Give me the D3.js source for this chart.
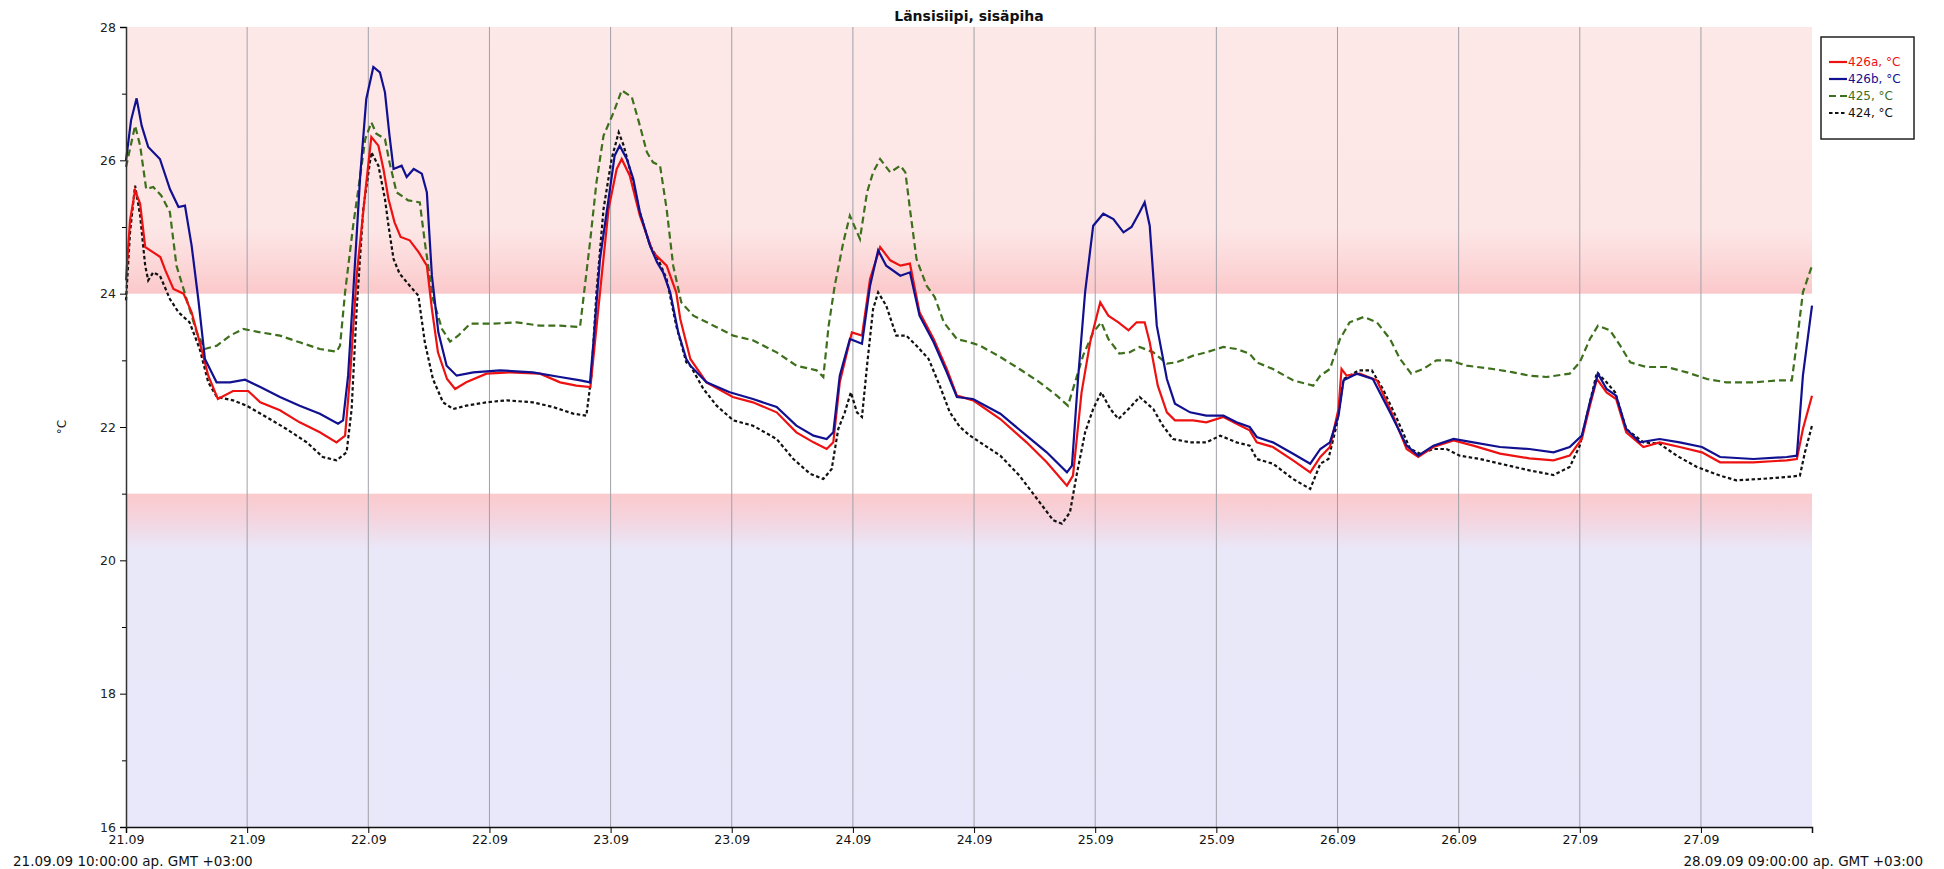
<!DOCTYPE html>
<html lang="fi">
    <head>
        <meta charset="utf-8">
        <title>Länsisiipi, sisäpiha</title>
        <script src="https://cdn.jsdelivr.net/npm/d3@7/dist/d3.min.js" charset="utf-8"></script>
        <style>
            body { margin: 0; background: #fff; }
            text { font-family: "DejaVu Sans", Verdana, sans-serif; }
        </style>
    </head>
    <body>
        <div id="chart"></div>
        <script>
            // hours after 21.09.09 10:00, temperature °C
            var s426a = [[0,24.2],[0.4,25.1],[0.9,25.55],[1.4,25.35],[1.9,24.7],[2.4,24.65],[3.4,24.55],[3.9,24.35],[4.7,24.07],[5.7,24.0],[6.5,23.72],[7.3,23.27],[8.15,22.77],[9.1,22.42],[10.6,22.54],[12.1,22.54],[13.3,22.37],[15.25,22.25],[17.2,22.07],[19.2,21.92],[20.85,21.77],[21.7,21.87],[22.2,22.77],[22.85,24.27],[23.7,25.52],[24.3,26.35],[25.0,26.22],[25.5,25.87],[26.0,25.42],[26.6,25.07],[27.2,24.85],[28.1,24.8],[29.0,24.62],[29.8,24.42],[30.3,23.77],[30.9,23.12],[31.8,22.72],[32.6,22.57],[33.7,22.67],[35.7,22.8],[38.0,22.82],[41.0,22.8],[43.0,22.67],[44.6,22.62],[46.0,22.6],[46.45,23.27],[46.95,24.02],[47.8,25.27],[48.6,25.87],[49.1,26.02],[49.9,25.77],[50.9,25.17],[52.2,24.62],[53.55,24.42],[54.5,24.02],[54.9,23.62],[55.9,23.02],[57.5,22.67],[60.1,22.45],[62.1,22.37],[64.45,22.22],[66.4,21.92],[68.1,21.77],[69.4,21.67],[70.06,21.77],[70.7,22.67],[71.9,23.42],[72.9,23.37],[73.7,24.22],[74.7,24.7],[75.7,24.5],[76.7,24.42],[77.65,24.45],[78.6,23.72],[80.0,23.32],[81.3,22.87],[82.3,22.47],[83.9,22.4],[86.6,22.12],[89.2,21.77],[91.2,21.47],[93.2,21.12],[93.8,21.27],[94.65,22.52],[95.5,23.27],[96.5,23.87],[97.3,23.67],[98.3,23.57],[99.3,23.45],[100.1,23.57],[100.9,23.57],[101.4,23.27],[102.2,22.62],[103.1,22.22],[103.9,22.1],[105.7,22.1],[107.0,22.07],[108.7,22.15],[110.0,22.05],[111.3,21.95],[112.0,21.77],[113.6,21.7],[115.6,21.5],[117.3,21.32],[118.3,21.55],[119.25,21.7],[120.1,22.27],[120.4,22.87],[120.9,22.77],[122.2,22.8],[123.9,22.7],[125.5,22.17],[126.85,21.67],[128.0,21.55],[129.5,21.7],[131.5,21.8],[133.45,21.72],[136.1,21.6],[139.0,21.53],[141.4,21.5],[143.0,21.57],[144.2,21.82],[145.0,22.32],[145.7,22.72],[146.65,22.52],[147.6,22.42],[148.6,21.92],[150.3,21.7],[151.9,21.77],[153.9,21.7],[156.1,21.62],[157.9,21.47],[161.2,21.47],[164.5,21.5],[165.5,21.52],[166.1,21.97],[167,22.47]];
            var s426b = [[0,26.0],[0.5,26.6],[1.05,26.93],[1.55,26.52],[2.2,26.2],[3.36,26.02],[4.35,25.57],[5.2,25.3],[5.84,25.32],[6.5,24.72],[7.16,23.92],[7.82,23.02],[8.97,22.67],[10.3,22.67],[11.8,22.71],[13.3,22.6],[15.25,22.45],[17.2,22.32],[19.2,22.2],[21.0,22.05],[21.5,22.1],[22.0,22.77],[22.5,24.0],[23.2,25.77],[23.8,26.92],[24.5,27.4],[25.15,27.32],[25.65,27.02],[26.1,26.37],[26.5,25.87],[27.3,25.92],[27.8,25.75],[28.5,25.87],[29.3,25.8],[29.8,25.52],[30.3,24.27],[30.94,23.42],[31.76,22.92],[32.75,22.77],[34.4,22.82],[37.05,22.85],[40.3,22.82],[43.0,22.75],[45.0,22.7],[45.96,22.67],[46.3,23.27],[46.95,24.52],[47.8,25.42],[48.4,26.07],[48.9,26.22],[49.6,26.02],[50.25,25.72],[50.9,25.22],[51.9,24.72],[52.6,24.47],[53.2,24.32],[53.9,24.02],[54.7,23.42],[55.5,23.02],[55.9,22.92],[57.5,22.67],[59.8,22.52],[62.1,22.42],[64.45,22.3],[66.4,22.02],[68.1,21.87],[69.4,21.82],[70.06,21.92],[70.7,22.77],[71.7,23.32],[72.9,23.25],[73.7,24.12],[74.5,24.65],[75.3,24.42],[76.7,24.27],[77.65,24.32],[78.6,23.67],[80.0,23.27],[81.3,22.82],[82.3,22.45],[83.9,22.42],[86.6,22.2],[89.2,21.87],[91.2,21.62],[93.2,21.32],[93.7,21.42],[94.3,22.72],[95.0,24.02],[95.8,25.02],[96.8,25.2],[97.8,25.12],[98.8,24.92],[99.6,25.0],[100.4,25.22],[100.9,25.37],[101.4,25.02],[102.1,23.52],[103.1,22.72],[103.9,22.35],[105.4,22.22],[107.0,22.17],[108.7,22.17],[110.0,22.07],[111.3,22.0],[112.0,21.85],[113.6,21.77],[115.6,21.6],[117.3,21.45],[118.3,21.67],[119.25,21.77],[120.1,22.17],[120.6,22.7],[121.9,22.8],[123.5,22.72],[125.2,22.22],[126.85,21.72],[128.0,21.57],[129.5,21.72],[131.5,21.82],[133.45,21.77],[136.1,21.7],[139.0,21.67],[141.4,21.62],[143.0,21.7],[144.2,21.87],[145.0,22.37],[145.8,22.8],[146.65,22.57],[147.6,22.47],[148.6,21.97],[149.95,21.77],[151.9,21.82],[153.9,21.77],[156.1,21.7],[157.9,21.55],[161.2,21.52],[164.5,21.55],[165.5,21.57],[166.1,22.77],[167,23.82]];
            var s425 = [[0,25.9],[0.9,26.52],[1.4,26.22],[2.0,25.57],[2.7,25.6],[3.5,25.47],[4.35,25.22],[5.0,24.42],[6.0,23.92],[7.0,23.42],[7.8,23.17],[9.0,23.22],[10.3,23.37],[11.6,23.47],[13.3,23.42],[15.25,23.37],[17.2,23.27],[19.2,23.17],[20.85,23.13],[21.2,23.22],[21.7,24.02],[22.5,25.02],[23.2,25.77],[23.7,26.32],[24.3,26.57],[24.8,26.4],[25.65,26.32],[26.1,25.97],[26.8,25.52],[27.95,25.4],[29.1,25.37],[29.6,24.77],[30.4,23.92],[31.3,23.47],[32.1,23.28],[32.9,23.37],[34.1,23.55],[36.4,23.55],[38.7,23.57],[41.0,23.52],[43.0,23.52],[44.97,23.5],[45.3,23.92],[45.96,24.77],[46.6,25.67],[47.3,26.37],[48.3,26.72],[49.1,27.05],[50.1,26.95],[50.9,26.52],[51.6,26.12],[52.2,25.97],[52.9,25.92],[53.55,25.27],[54.2,24.42],[55.0,23.87],[56.2,23.67],[58.2,23.52],[60.15,23.37],[62.1,23.3],[64.45,23.12],[66.4,22.92],[68.4,22.85],[69.07,22.75],[69.6,23.52],[70.2,24.12],[71.05,24.77],[71.7,25.17],[72.7,24.82],[73.4,25.52],[74.0,25.82],[74.7,26.02],[75.7,25.82],[76.7,25.92],[77.2,25.82],[77.65,25.27],[78.3,24.52],[79.3,24.12],[80.1,23.95],[81.0,23.57],[82.3,23.32],[83.6,23.27],[84.6,23.22],[86.6,23.05],[88.5,22.87],[90.5,22.67],[92.2,22.47],[93.3,22.32],[94.0,22.67],[94.8,23.07],[95.8,23.42],[96.6,23.57],[97.3,23.32],[98.4,23.1],[99.4,23.12],[100.4,23.2],[101.75,23.12],[103.1,22.95],[104.05,22.97],[105.7,23.07],[107.0,23.12],[108.7,23.2],[110.0,23.17],[111.3,23.1],[112.0,22.97],[113.6,22.87],[115.6,22.7],[117.6,22.62],[118.3,22.77],[119.25,22.87],[120.25,23.32],[121.2,23.57],[122.6,23.65],[123.9,23.57],[125.2,23.32],[126.2,23.02],[127.3,22.8],[128.5,22.87],[129.8,23.0],[131.1,23.0],[132.8,22.92],[135.4,22.87],[137.4,22.82],[139.0,22.77],[140.7,22.75],[143.0,22.8],[144.0,22.97],[145.0,23.32],[145.8,23.52],[147.0,23.45],[148.0,23.22],[149.0,22.97],[150.6,22.9],[152.6,22.9],[154.6,22.82],[156.6,22.72],[158.5,22.67],[161.2,22.67],[163.8,22.7],[165.0,22.7],[165.5,23.27],[166.1,24.02],[167,24.42]];
            var s424 = [[0,23.9],[0.4,24.92],[0.9,25.62],[1.4,25.17],[1.9,24.42],[2.2,24.2],[2.7,24.32],[3.36,24.27],[4.35,23.92],[5.2,23.72],[6.3,23.57],[7.3,23.17],[8.15,22.67],[9.0,22.45],[10.6,22.4],[11.95,22.32],[13.9,22.15],[15.9,21.97],[17.9,21.77],[19.5,21.55],[20.85,21.5],[21.85,21.62],[22.35,22.27],[22.85,23.77],[23.5,25.27],[24.3,26.12],[25.0,25.92],[25.65,25.42],[26.0,25.02],[26.5,24.52],[27.1,24.3],[28.1,24.12],[28.96,23.97],[29.6,23.27],[30.4,22.72],[31.4,22.37],[32.4,22.27],[33.7,22.32],[35.7,22.37],[37.7,22.4],[40.3,22.37],[42.3,22.3],[44.3,22.2],[45.6,22.17],[46.1,22.77],[46.6,24.02],[47.3,25.27],[48.1,26.02],[48.8,26.42],[49.3,26.22],[49.9,25.87],[50.9,25.22],[51.9,24.72],[52.7,24.52],[53.55,24.22],[54.5,23.52],[55.5,22.97],[55.9,22.92],[57.2,22.57],[58.5,22.32],[60.15,22.1],[62.1,22.02],[64.45,21.82],[66.1,21.52],[67.75,21.3],[69.07,21.22],[69.9,21.37],[70.55,21.97],[71.2,22.22],[71.8,22.52],[72.4,22.22],[72.9,22.15],[73.4,22.92],[74.0,23.77],[74.5,24.02],[75.3,23.82],[76.3,23.37],[77.3,23.37],[78.3,23.22],[79.5,23.02],[80.6,22.62],[81.6,22.22],[82.6,22.0],[83.6,21.87],[84.6,21.77],[86.6,21.57],[88.5,21.27],[90.5,20.87],[91.85,20.6],[92.7,20.55],[93.5,20.72],[94.15,21.27],[95.0,21.92],[95.8,22.27],[96.6,22.52],[97.5,22.27],[98.3,22.12],[99.3,22.27],[100.4,22.45],[101.75,22.27],[102.7,22.02],[103.7,21.82],[105.4,21.77],[107.0,21.77],[108.4,21.87],[110.0,21.77],[111.3,21.72],[112.0,21.52],[113.6,21.45],[115.6,21.22],[117.3,21.07],[118.3,21.45],[119.1,21.52],[119.9,22.02],[120.6,22.72],[122.1,22.85],[123.4,22.85],[124.5,22.57],[125.9,22.12],[127.2,21.67],[128.2,21.6],[129.5,21.67],[130.8,21.67],[132.1,21.57],[134.1,21.52],[136.1,21.45],[139.0,21.35],[140.05,21.32],[141.4,21.28],[143.0,21.4],[144.0,21.72],[145.0,22.37],[145.7,22.82],[146.65,22.67],[147.5,22.52],[148.6,21.97],[150.3,21.77],[151.9,21.75],[153.6,21.57],[155.6,21.4],[157.9,21.27],[159.5,21.2],[161.85,21.22],[164.5,21.25],[165.8,21.27],[166.3,21.62],[167,22.02]];

            var seriesNames = ["426a, °C", "426b, °C", "425, °C", "424, °C"];
            var yTicks = [16, 17, 18, 19, 20, 21, 22, 23, 24, 25, 26, 27, 28];
            var comfortLow = 21, comfortHigh = 24;
            var startLabel = "21.09.09 10:00:00 ap. GMT +03:00";
            var endLabel = "28.09.09 09:00:00 ap. GMT +03:00";
            var title = "Länsisiipi, sisäpiha";

            var W = 1944, H = 869;
            var margin = {top: 27, right: 132, bottom: 42, left: 126};
            var width = W - margin.left - margin.right,
                height = H - margin.top - margin.bottom;

            var t0 = Date.UTC(2009, 8, 21, 10);
            var hour = 3600 * 1000;
            function toDate(h) { return new Date(t0 + h * hour); }

            var x = d3.scaleUtc()
                .domain([toDate(0), toDate(167)])
                .range([0, width]);
            var y = d3.scaleLinear()
                .domain([16, 28])
                .range([height, 0]);

            var svg = d3.select("#chart").append("svg")
                .attr("width", W)
                .attr("height", H);
            var defs = svg.append("defs");

            var gHigh = defs.append("linearGradient").attr("id", "gHigh")
                .attr("x1", 0).attr("y1", 0).attr("x2", 0).attr("y2", 1);
            gHigh.append("stop").attr("offset", 0).attr("stop-color", "#fde8e8");
            gHigh.append("stop").attr("offset", 0.76).attr("stop-color", "#fde6e6");
            gHigh.append("stop").attr("offset", 0.9).attr("stop-color", "#fcd6d7");
            gHigh.append("stop").attr("offset", 1).attr("stop-color", "#fbc8ca");

            var gLow = defs.append("linearGradient").attr("id", "gLow")
                .attr("x1", 0).attr("y1", 0).attr("x2", 0).attr("y2", 1);
            gLow.append("stop").attr("offset", 0).attr("stop-color", "#fbcacc");
            gLow.append("stop").attr("offset", 0.07).attr("stop-color", "#f5d3dd");
            gLow.append("stop").attr("offset", 0.17).attr("stop-color", "#e9e8f9");
            gLow.append("stop").attr("offset", 1).attr("stop-color", "#e8e8fa");

            var g = svg.append("g")
                .attr("transform", "translate(" + margin.left + "," + margin.top + ")");

            // background bands
            g.append("rect")
                .attr("x", 0).attr("width", width)
                .attr("y", y(28)).attr("height", y(comfortHigh) - y(28))
                .style("fill", "url(#gHigh)");
            g.append("rect")
                .attr("x", 0).attr("width", width)
                .attr("y", y(comfortLow)).attr("height", y(16) - y(comfortLow))
                .style("fill", "url(#gLow)");

            var tickDates = d3.range(0, 14).map(function(i) { return toDate(i * 12); });

            // vertical grid
            g.selectAll(".grid")
                .data(tickDates.slice(1))
                .enter()
                .append("line")
                .attr("class", "grid")
                .attr("x1", function(d) { return x(d); })
                .attr("x2", function(d) { return x(d); })
                .attr("y1", 0)
                .attr("y2", height)
                .style("stroke", "#a0a0a8")
                .style("stroke-width", 1);

            var series = [
                {name: seriesNames[0], data: s426a, color: "#ee1111", dash: null},
                {name: seriesNames[1], data: s426b, color: "#101090", dash: null},
                {name: seriesNames[2], data: s425, color: "#3d6f1c", dash: "7,4"},
                {name: seriesNames[3], data: s424, color: "#111111", dash: "3.5,2.5"}
            ];

            var line = d3.line()
                .x(function(d) { return x(toDate(d[0])); })
                .y(function(d) { return y(d[1]); });

            // draw order: red, green, black, blue on top? keep legend order but blue last
            [2, 3, 0, 1].forEach(function(i) {
                var s = series[i];
                g.append("path")
                    .datum(s.data)
                    .attr("d", line)
                    .style("fill", "none")
                    .style("stroke", s.color)
                    .style("stroke-width", 2.2)
                    .style("stroke-dasharray", s.dash);
            });

            // axes
            var xAxis = d3.axisBottom(x)
                .tickValues(tickDates)
                .tickSize(6)
                .tickPadding(2)
                .tickFormat(d3.utcFormat("%d.%m"));
            var xg = g.append("g")
                .attr("transform", "translate(0," + height + ")")
                .call(xAxis);
            xg.selectAll("text").style("font-size", "12.5px").style("fill", "#111");
            xg.select(".domain").style("stroke", "#111").style("stroke-width", 1.5);

            var yMajor = d3.axisLeft(y)
                .tickValues(yTicks.filter(function(d) { return d % 2 === 0; }))
                .tickSize(6)
                .tickPadding(4);
            var yg = g.append("g").call(yMajor);
            yg.selectAll("text").style("font-size", "12.5px").style("fill", "#222");
            yg.select(".domain").style("stroke", "#333").style("stroke-width", 1.5);

            var yMinor = d3.axisLeft(y)
                .tickValues(yTicks.filter(function(d) { return d % 2 !== 0; }))
                .tickSize(4)
                .tickFormat("");
            var ym = g.append("g").call(yMinor);
            ym.select(".domain").remove();

            g.append("text")
                .attr("transform", "translate(-60," + (height / 2) + ") rotate(-90)")
                .style("text-anchor", "middle")
                .style("font-size", "12px")
                .style("fill", "#222")
                .text("°C");

            g.append("text")
                .attr("x", width / 2)
                .attr("y", -6)
                .style("text-anchor", "middle")
                .style("font-size", "14px")
                .style("font-weight", "bold")
                .style("fill", "#111")
                .text(title);

            svg.append("text")
                .attr("x", 13)
                .attr("y", 866)
                .style("font-size", "13.5px")
                .style("fill", "#111")
                .text(startLabel);
            svg.append("text")
                .attr("x", 1923)
                .attr("y", 866)
                .style("text-anchor", "end")
                .style("font-size", "13.5px")
                .style("fill", "#111")
                .text(endLabel);

            // legend
            var lg = svg.append("g")
                .attr("transform", "translate(1821,37)");
            lg.append("rect")
                .attr("width", 93)
                .attr("height", 102)
                .style("fill", "#fff")
                .style("stroke", "#222")
                .style("stroke-width", 1.5);
            var leyenda = lg.selectAll(".leyenda")
                .data(series)
                .enter()
                .append("g")
                .attr("class", "leyenda")
                .attr("transform", function(d, i) {
                    return "translate(0," + (25 + i * 17) + ")";
                });
            leyenda.append("line")
                .attr("x1", 8).attr("x2", 26)
                .style("stroke", function(d) { return d.color; })
                .style("stroke-width", 2.2)
                .style("stroke-dasharray", function(d) { return d.dash; });
            leyenda.append("text")
                .attr("x", 27)
                .attr("dy", "0.35em")
                .style("font-size", "12px")
                .style("fill", function(d) { return d.color; })
                .text(function(d) { return d.name; });
        </script>
    </body>
</html>
